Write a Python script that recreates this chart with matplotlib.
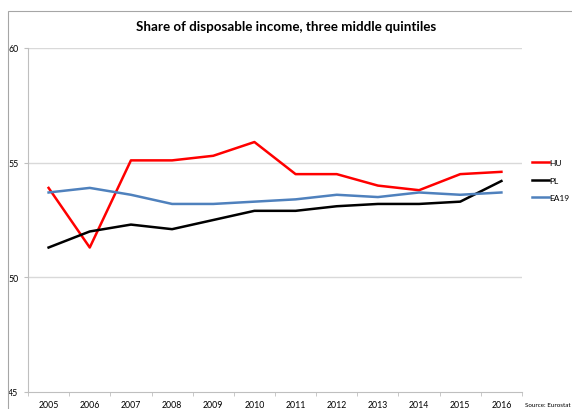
import matplotlib.pyplot as plt
from matplotlib.patches import Rectangle

years = ["2005", "2006", "2007", "2008", "2009", "2010",
         "2011", "2012", "2013", "2014", "2015", "2016"]
hu = [53.9, 51.3, 55.1, 55.1, 55.3, 55.9, 54.5, 54.5, 54.0, 53.8, 54.5, 54.6]
pl = [51.3, 52.0, 52.3, 52.1, 52.5, 52.9, 52.9, 53.1, 53.2, 53.2, 53.3, 54.2]
ea19 = [53.7, 53.9, 53.6, 53.2, 53.2, 53.3, 53.4, 53.6, 53.5, 53.7, 53.6, 53.7]

plt.rcParams['font.family'] = ['Lato', 'DejaVu Sans']

fig = plt.figure(figsize=(5.72, 4.10), dpi=100)
ax = fig.add_axes([28 / 572, 17 / 410, 494 / 572, 344 / 410])

x = list(range(len(years)))
ax.plot(x, hu, color="#ff0000", lw=1.8, label="HU")
ax.plot(x, pl, color="black", lw=1.8, label="PL")
ax.plot(x, ea19, color="#4f81bd", lw=1.8, label="EA19")

ax.set_xlim(-0.5, 11.5)
ax.set_ylim(45, 60)
ax.set_yticks([45, 50, 55, 60])
ax.set_xticks(x)
ax.set_xticklabels(years)
ax.set_xticks([i - 0.5 for i in range(13)], minor=True)
ax.tick_params(axis="x", which="major", length=0, labelsize=6.3, pad=6)
ax.tick_params(axis="x", which="minor", length=3, color="#bfbfbf")
ax.tick_params(axis="y", length=3, color="#bfbfbf", labelsize=6.3, pad=4)

for v in [50, 55, 60]:
    ax.axhline(v, color="#d9d9d9", lw=1, zorder=0)
for s in ["top", "right"]:
    ax.spines[s].set_visible(False)
for s in ["left", "bottom"]:
    ax.spines[s].set_color("#bfbfbf")

ax.legend(loc="upper left", bbox_to_anchor=(1.005, 0.70), frameon=False,
          fontsize=6, handlelength=2.0, handletextpad=0.1, labelspacing=1.3)

fig.text(0.5, 0.935, "Share of disposable income, three middle quintiles",
         ha="center", va="center", fontsize=9.6, fontweight="bold")
fig.text(0.997, 0.012, "Source: Eurostat", ha="right", va="center", fontsize=4.5)

fig.patches.append(Rectangle((8 / 572, -0.1), 1.2, 1.1 - 12 / 410,
                             transform=fig.transFigure, fill=False,
                             edgecolor="#a6a6a6", lw=0.8))

fig.savefig("out.png", dpi=100)
